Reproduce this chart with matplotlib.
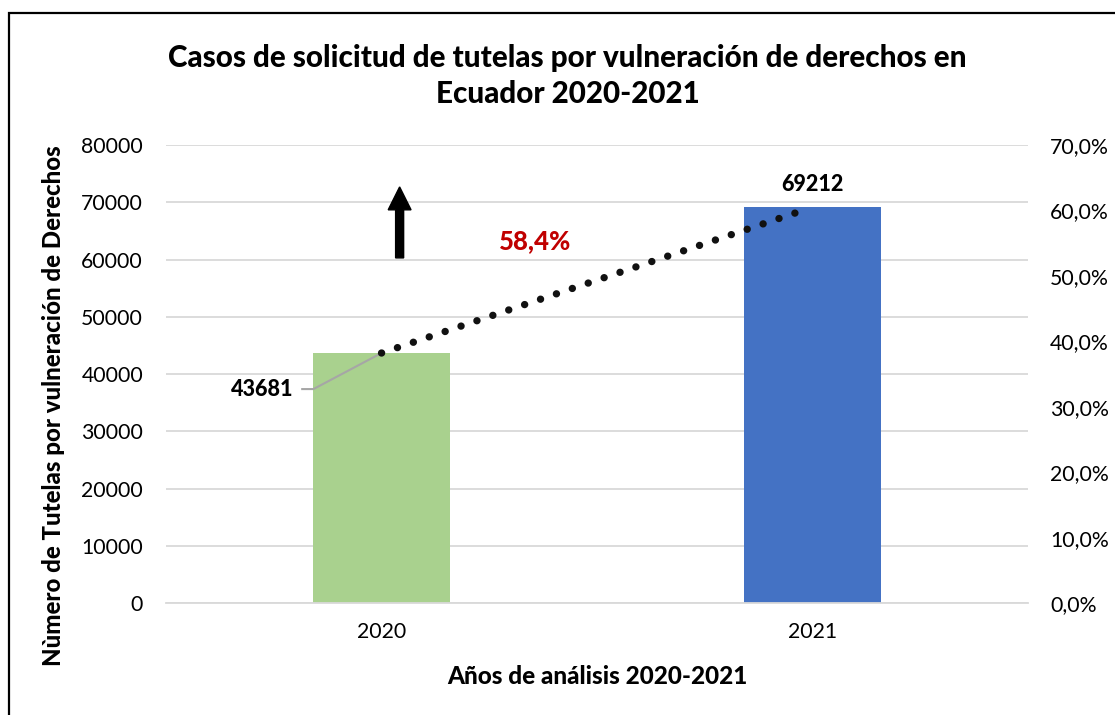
import matplotlib
matplotlib.use("Agg")
import matplotlib.pyplot as plt
from matplotlib.patches import Rectangle, FancyArrow
from matplotlib.ticker import FuncFormatter, MultipleLocator

plt.rcParams["font.family"] = ["Lato", "DejaVu Sans"]

# data
years = ["2020", "2021"]
cases = [43681, 69212]
bar_colors = ["#A9D18E", "#4472C4"]
growth_label = "58,4%"
# dotted trend drawn between the bar tops (end point)
trend_x = [0, 0.966]
trend_y = [43681, 68300]

fig = plt.figure(figsize=(11.15, 7.15), dpi=100)
ax = fig.add_axes([0.1489, 0.1566, 0.922 - 0.1489, 0.797 - 0.1566])

x = list(range(len(years)))
ax.bar(x, cases, width=0.316, color=bar_colors, zorder=2)
ax.set_xlim(-0.5, 1.5)
ax.set_ylim(0, 80000)
ax.yaxis.set_major_locator(MultipleLocator(10000))
ax.set_xticks(x)
ax.set_xticklabels(years)
ax.grid(axis="y", color="#d9d9d9", lw=1.3, zorder=0)
ax.set_axisbelow(True)
for s in ["top", "right", "left"]:
    ax.spines[s].set_visible(False)
ax.spines["bottom"].set_color("#d9d9d9")
ax.spines["bottom"].set_linewidth(1.3)
ax.tick_params(length=0, labelsize=15.3, pad=16.5)
ax.tick_params(axis="x", pad=14)

# secondary percentage axis
ax2 = ax.twinx()
ax2.set_ylim(0, 0.70)
ax2.yaxis.set_major_locator(MultipleLocator(0.10))
ax2.yaxis.set_major_formatter(FuncFormatter(lambda v, p: f"{v*100:.1f}%".replace(".", ",")))
for s in ax2.spines.values():
    s.set_visible(False)
ax2.tick_params(length=0, labelsize=15.3, pad=16)

# dotted line
ax.plot(trend_x, trend_y, color="#111111", lw=5.3, dashes=(0.01, 2.27),
        dash_capstyle="round", zorder=4)

# data labels
ax.text(1, cases[1] + 2000, str(cases[1]), ha="center", va="bottom",
        fontsize=15.5, fontweight=900)
ax.plot([-0.184, -0.158, 0], [cases[0] - 6300, cases[0] - 6300, cases[0]],
        color="#a6a6a6", lw=1.5, zorder=3)
ax.text(-0.205, cases[0] - 6300, str(cases[0]), ha="right", va="center",
        fontsize=15.5, fontweight=900)

# growth arrow and percentage
ax.add_patch(FancyArrow(0.042, 60300, 0, 12400, width=0.0186, head_width=0.053,
                        head_length=4000, length_includes_head=True,
                        color="black", zorder=5))
ax.text(0.357, 63300, growth_label, ha="center", va="center", color="#C00000",
        fontsize=18.5, fontweight=900)

ax.set_xlabel("Años de análisis 2020-2021", fontsize=17.5, fontweight=900, labelpad=16)
ax.set_ylabel("Nùmero de Tutelas por vulneración de Derechos", fontsize=17.3,
              fontweight=900)
ax.yaxis.set_label_coords(-0.117, 0.432)

fig.text(0.509, 0.894, "Casos de solicitud de tutelas por vulneración de derechos en\nEcuador 2020-2021",
         ha="center", va="center", fontsize=21.3, fontweight=900, linespacing=1.36)

# outer frame
fig.add_artist(Rectangle((9 / 1115, -0.1), 1.2, (715 - 13) / 715 + 0.1, transform=fig.transFigure,
                         fill=False, edgecolor="black", lw=1.6))

fig.savefig("out.png", dpi=100)
